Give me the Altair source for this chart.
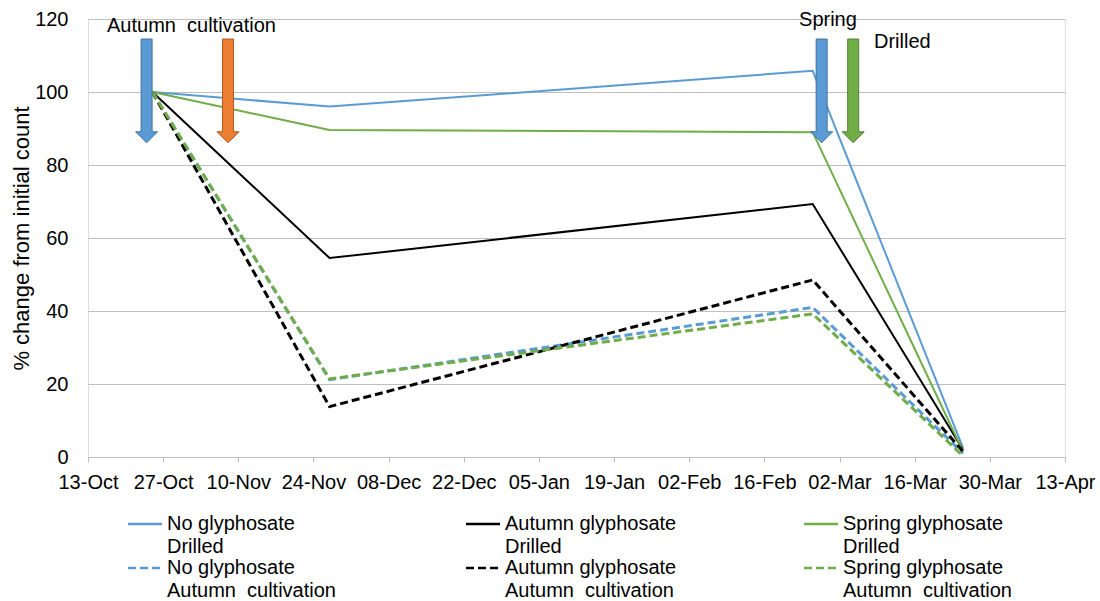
import altair as alt
import pandas as pd

# Sampling dates and % change from the initial count for each treatment
sample_dates = ["2013-10-25", "2013-11-27", "2014-02-25", "2014-03-25"]

treatments = ["No glyphosate", "Autumn glyphosate", "Spring glyphosate"]
establishments = ["Drilled", "Autumn\u00a0 cultivation"]

no_gly_drilled = [100, 96.0, 105.8, 2.5]
autumn_gly_drilled = [100, 54.5, 69.3, 2.0]
spring_gly_drilled = [100, 89.6, 89.0, 1.5]
no_gly_cultivated = [100, 21.2, 41.0, 1.0]
autumn_gly_cultivated = [100, 13.8, 48.5, 1.5]
spring_gly_cultivated = [100, 21.4, 39.2, 0.3]

tick_dates = [
    (2013, 10, 13), (2013, 10, 27), (2013, 11, 10), (2013, 11, 24),
    (2013, 12, 8), (2013, 12, 22), (2014, 1, 5), (2014, 1, 19),
    (2014, 2, 2), (2014, 2, 16), (2014, 3, 2), (2014, 3, 16),
    (2014, 3, 30), (2014, 4, 13),
]
y_ticks = [0, 20, 40, 60, 80, 100, 120]

# Management events marked with arrows (date, value at the head base)
arrow_names = ["autumn_a", "autumn_b", "spring_a", "spring_b"]
arrow_dates = ["2013-10-23T22:00:00Z", "2013-11-08T02:00:00Z",
               "2014-02-26T16:00:00Z", "2014-03-04T13:00:00Z"]
arrow_values = [89.1, 89.1, 89.1, 89.1]

note_texts = ["Autumn\u00a0 cultivation", "Spring", "Drilled"]
note_dates = ["2013-10-16T13:00:00Z", "2014-02-22T11:00:00Z", "2014-03-08T10:00:00Z"]
note_values = [118.0, 119.6, 113.6]

# ---- styling ----
FONT = "Liberation Sans"
treatment_colors = ["#5B9BD5", "#000000", "#70AD47"]
DASH = [8, 4]
arrow_fills = ["#5B9BD5", "#ED7D31", "#5B9BD5", "#70AD47"]
arrow_strokes = ["#41719C", "#AE5A21", "#41719C", "#507E32"]
# block arrow drawn as a custom symbol: unit = 11 px
ARROW_PATH = "M-0.5,-8.43L0.5,-8.43L0.5,0L1,0L0,1L-1,0L-0.5,0Z"
# legend line sample (unit = 3 px): a 34 px stroke level with the first label line
LEGEND_SWATCH = "M-3.33,3.33L8,3.33"

drilled_values = [no_gly_drilled, autumn_gly_drilled, spring_gly_drilled]
cultivated_values = [no_gly_cultivated, autumn_gly_cultivated, spring_gly_cultivated]
drilled_labels = [f"{t}|{establishments[0]}" for t in treatments]
cultivated_labels = [f"{t}|{establishments[1]}" for t in treatments]


def series_frame(labels, value_lists):
    rows = []
    for label, values in zip(labels, value_lists):
        for d, v in zip(sample_dates, values):
            rows.append({"date": d, "pct": v, "series": label})
    return pd.DataFrame(rows)


drilled_df = series_frame(drilled_labels, drilled_values)
cultivated_df = series_frame(cultivated_labels, cultivated_values)
arrows_df = pd.DataFrame({"arrow": arrow_names, "date": arrow_dates, "pct": arrow_values})
notes_df = pd.DataFrame({"note": note_texts, "date": note_dates, "pct": note_values})


def dt(y, m, d):
    return alt.DateTime(year=y, month=m, date=d, utc=True)


x_scale = alt.Scale(type="utc", domain=[dt(2013, 10, 13), dt(2014, 4, 13)])
y_scale = alt.Scale(domain=[0, 120])

x_axis = alt.Axis(
    values=[dt(*t) for t in tick_dates],
    labelExpr="utcFormat(datum.value, '%d-%b')",
    title=None, grid=False, domainColor="#BFBFBF", domainWidth=1,
    tickColor="#BFBFBF", tickSize=5, labelPadding=10, labelFontSize=20,
    labelColor="#000000", labelFont=FONT, labelFlush=False, labelOverlap=False,
)
y_axis = alt.Axis(
    values=y_ticks, title="% change from initial count", domain=False,
    ticks=False, tickSize=0, grid=True, gridColor="#BFBFBF", gridWidth=1,
    labelPadding=20, labelFontSize=20, labelColor="#000000", labelFont=FONT,
    titleFontSize=22, titleFontWeight="normal", titleColor="#000000",
    titleFont=FONT, titleX=-67, titleY=219, titleAngle=-90,
    titleAlign="center", titleBaseline="middle",
)


def row_legend(legend_y, dash=None):
    extra = {"symbolDash": dash} if dash else {}
    return alt.Legend(
        title=None, orient="none", legendX=40, legendY=legend_y, columns=3,
        direction="horizontal", symbolType=LEGEND_SWATCH, symbolSize=36,
        symbolStrokeWidth=2.5, labelFontSize=20, labelFont=FONT,
        labelColor="#000000", labelOffset=19, columnPadding=122,
        gridAlign="all", labelBaseline="top", labelLimit=400, padding=0,
        labelExpr="split(datum.label, '|')", **extra,
    )


x_enc = alt.X("date:T", scale=x_scale, axis=x_axis)
y_enc = alt.Y("pct:Q", scale=y_scale, axis=y_axis)

solid_lines = alt.Chart(drilled_df).mark_line(strokeWidth=2).encode(
    x=x_enc, y=y_enc,
    color=alt.Color("series:N", scale=alt.Scale(domain=drilled_labels, range=treatment_colors),
                    legend=row_legend(485)),
)

dashed_lines = alt.Chart(cultivated_df).mark_line(strokeWidth=3, strokeDash=DASH).encode(
    x=x_enc, y=y_enc,
    color=alt.Color("series:N", scale=alt.Scale(domain=cultivated_labels, range=treatment_colors),
                    legend=row_legend(529, DASH)),
)

arrows = alt.Chart(arrows_df).mark_point(
    shape=ARROW_PATH, size=484, filled=True, opacity=1, strokeWidth=1
).encode(
    x=alt.X("date:T"),
    y=alt.Y("pct:Q"),
    fill=alt.Fill("arrow:N", scale=alt.Scale(domain=arrow_names, range=arrow_fills), legend=None),
    stroke=alt.Stroke("arrow:N", scale=alt.Scale(domain=arrow_names, range=arrow_strokes), legend=None),
)

notes = alt.Chart(notes_df).mark_text(
    fontSize=20, font=FONT, align="left", baseline="middle", color="#000000"
).encode(
    x=alt.X("date:T"),
    y=alt.Y("pct:Q"),
    text="note:N",
)

chart = alt.layer(solid_lines, dashed_lines, arrows, notes).resolve_scale(
    color="independent", fill="independent", stroke="independent"
).properties(
    width=977, height=438,
    autosize=alt.AutoSizeParams(type="none"),
    padding={"left": 88, "top": 19, "right": 35, "bottom": 144},
).configure_view(strokeWidth=0).configure(
    background="#FFFFFF",
    style={"guide-label": {"lineHeight": 23}},
)

chart.save("out.html", embed_options={"renderer": "svg", "actions": False})
